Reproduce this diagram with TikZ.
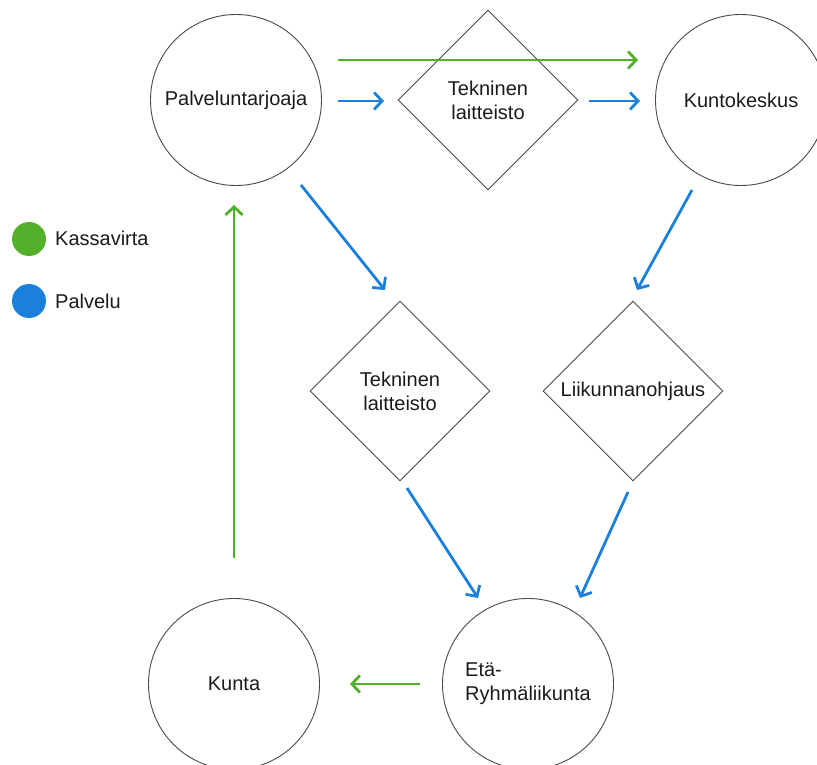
\documentclass[tikz,border=0pt]{standalone}
\usepackage{fontspec}
\setmainfont{Liberation Sans}
\usetikzlibrary{shapes.geometric,arrows.meta}
\definecolor{flowgreen}{HTML}{52B02A}
\definecolor{flowblue}{HTML}{1A80D9}
\definecolor{outline}{HTML}{4A4A4A}
\definecolor{ink}{HTML}{1A1A1A}
\begin{document}
\begin{tikzpicture}[x=1pt,y=-1pt,
  every node/.style={font=\fontsize{20}{24}\selectfont,text=ink},
  party/.style={circle,draw=outline,line width=0.9pt,minimum size=171pt,inner sep=0pt},
  stage/.style={diamond,draw=outline,line width=0.9pt,minimum width=180pt,minimum height=180pt,inner sep=0pt,align=center},
  flow/.style={line width=2.8pt,-{Straight Barb[length=8pt,width=17pt]}},
  cash/.style={flow,draw=flowgreen},
  service/.style={flow,draw=flowblue},
  dot/.style={circle,minimum size=34pt,inner sep=0pt}
]
\useasboundingbox (0,0) rectangle (817,765);

% actors
\node[party] (pal) at (236,100) {Palveluntarjoaja};
\node[party] (kunto) at (741,100) {Kuntokeskus};
\node[party] (kunta) at (234,684) {Kunta};
\node[party] (eta) at (528,684) {};
\node[align=left] (etatext) at (eta) {Etä-\\Ryhmäliikunta};

% intermediate stages
\node[stage] (tek1) at (488,100) {Tekninen\\laitteisto};
\node[stage] (tek2) at (400,391) {Tekninen\\laitteisto};
\node[stage] (liik) at (633,391) {Liikunnanohjaus};

% money flows
\draw[cash] ([shift={(102,-40)}]pal.center) -- ([shift={(-103,-40)}]kunto.center);
\draw[cash] ([shift={(0,-126)}]kunta.center) -- ([shift={(-2,105)}]pal.center);
\draw[cash] ([shift={(-108,0)}]eta.center) -- ([shift={(116,0)}]kunta.center);

% service flows
\draw[service] ([shift={(102,1)}]pal.center) -- ([shift={(-104,1)}]tek1.center);
\draw[service] ([shift={(101,1)}]tek1.center) -- ([shift={(-101,1)}]kunto.center);
\draw[service] ([shift={(65,85)}]pal.center) -- ([shift={(-15,-101)}]tek2.center);
\draw[service] ([shift={(-49,90)}]kunto.center) -- ([shift={(4,-101)}]liik.center);
\draw[service] ([shift={(7,97)}]tek2.center) -- ([shift={(-50,-86)}]eta.center);
\draw[service] ([shift={(-5,101)}]liik.center) -- ([shift={(52,-86)}]eta.center);

% legend
\node[dot,fill=flowgreen] (kdot) at (29,239) {};
\node[anchor=base west,inner sep=0pt] (klab) at (55,245) {Kassavirta};
\node[dot,fill=flowblue] (pdot) at (29,301) {};
\node[anchor=base west,inner sep=0pt] (plab) at (55,308) {Palvelu};
\end{tikzpicture}
\end{document}
